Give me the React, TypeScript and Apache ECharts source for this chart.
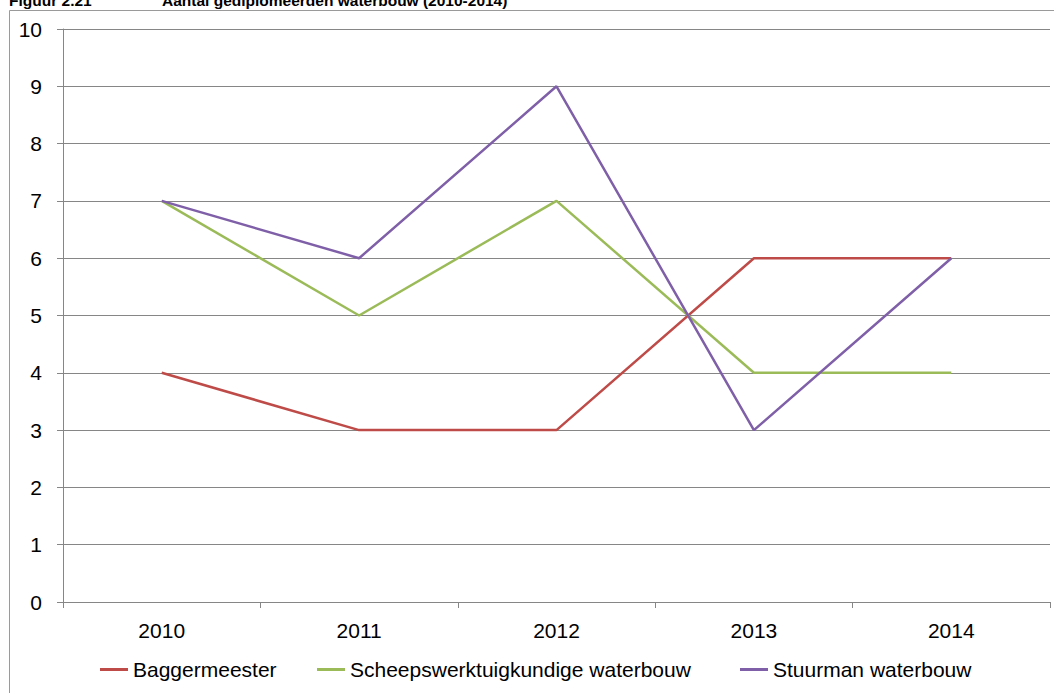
import React, { useEffect, useRef } from "react";
import * as echarts from "echarts";

const years = ["2010", "2011", "2012", "2013", "2014"];
const baggermeester = [4, 3, 3, 6, 6];
const scheepswerktuigkundige = [7, 5, 7, 4, 4];
const stuurman = [7, 6, 9, 3, 6];
const seriesNames = ["Baggermeester", "Scheepswerktuigkundige waterbouw", "Stuurman waterbouw"];
const colors = ["#BE4B48", "#9BBB59", "#7F60A8"];
const legendLefts = [100, 317, 740];

const FONT = "'Liberation Sans', Arial, sans-serif";

export default function App() {
  const ref = useRef<HTMLDivElement>(null);
  useEffect(() => {
    const chart = echarts.init(ref.current!, null, { renderer: "svg" });
    const dataSets = [baggermeester, scheepswerktuigkundige, stuurman];
    chart.setOption({
      animation: false,
      backgroundColor: "#ffffff",
      grid: { left: 63, right: 4, top: 29, bottom: 91 },
      legend: seriesNames.map((n, i) => ({
        data: [n],
        left: legendLefts[i],
        top: 659,
        icon: "rect",
        itemWidth: 28,
        itemHeight: 3,
        itemGap: 0,
        padding: 0,
        selectedMode: false,
        textStyle: { fontFamily: FONT, fontSize: 21, color: "#000" },
      })),
      xAxis: {
        type: "category",
        data: years,
        boundaryGap: true,
        axisLine: { lineStyle: { color: "#868686", width: 1 } },
        axisTick: { show: true, length: 6, lineStyle: { color: "#868686" } },
        axisLabel: { margin: 18, fontFamily: FONT, fontSize: 21, color: "#000" },
        splitLine: { show: false },
      },
      yAxis: {
        type: "value",
        min: 0,
        max: 10,
        interval: 1,
        axisLine: { show: true, lineStyle: { color: "#868686", width: 1 } },
        axisTick: { show: true, length: 6, lineStyle: { color: "#868686" } },
        axisLabel: { margin: 21, fontFamily: FONT, fontSize: 21, color: "#000" },
        splitLine: { show: true, lineStyle: { color: "#868686", width: 1 } },
      },
      series: seriesNames.map((n, i) => ({
        name: n,
        type: "line",
        data: dataSets[i],
        symbol: "none",
        lineStyle: { width: 2.5, color: colors[i] },
        itemStyle: { color: colors[i] },
      })),
      graphic: [
        {
          type: "rect",
          shape: { x: 9.5, y: 10.5, width: 1200, height: 800 },
          style: { fill: "none", stroke: "#9a9a9a", lineWidth: 1 },
          silent: true,
          z: -1,
        },
        {
          type: "text",
          x: 9,
          y: 8,
          style: {
            text: "Figuur 2.21",
            font: `bold 15.5px ${FONT}`,
            fill: "#000",
            textVerticalAlign: "bottom",
          },
        },
        {
          type: "text",
          x: 162,
          y: 8,
          style: {
            text: "Aantal gediplomeerden waterbouw (2010-2014)",
            font: `bold 15.5px ${FONT}`,
            fill: "#000",
            textVerticalAlign: "bottom",
          },
        },
      ],
    });
    return () => chart.dispose();
  }, []);
  return (
    <div
      ref={ref}
      style={{ position: "fixed", left: 0, top: 0, width: 1054, height: 693 }}
    />
  );
}
